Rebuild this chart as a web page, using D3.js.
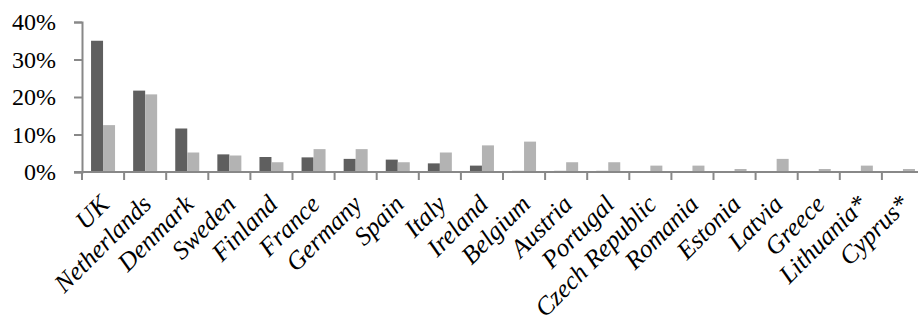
<!DOCTYPE html>
<html><head><meta charset="utf-8">
<script src="https://cdn.jsdelivr.net/npm/d3@7"></script>
<style>body{margin:0;background:#fff;overflow:hidden}</style>
</head><body>
<svg id="chart" width="918" height="320"></svg>
<script>
const categories = ["UK","Netherlands","Denmark","Sweden","Finland","France","Germany","Spain","Italy","Ireland","Belgium","Austria","Portugal","Czech Republic","Romania","Estonia","Latvia","Greece","Lithuania*","Cyprus*"];
const seriesA = [35.0,21.7,11.6,4.7,4.0,3.9,3.5,3.3,2.3,1.7,0.3,0.3,0.3,0.2,0,0,0,0,0,0];
const seriesB = [12.5,20.7,5.2,4.4,2.6,6.1,6.1,2.6,5.2,7.1,8.1,2.6,2.6,1.7,1.7,0.8,3.5,0.8,1.7,0.8];
const yTicks = [0,10,20,30,40];
const seriesColors = ["#5f5f5f","#b3b3b3"];

const svg = d3.select("#chart");
const mLeft = 82, mRight = 924, mTop = 22, mBottom = 172;
const x = d3.scaleBand().domain(categories).range([mLeft, mRight]).paddingInner(0.43).paddingOuter(0.215);
const sub = d3.scaleBand().domain([0,1]).range([0, x.bandwidth()]);
const y = d3.scaleLinear().domain([0,40]).range([mBottom, mTop]);

const groups = svg.append("g").selectAll("g").data(categories).join("g")
  .attr("transform", d => `translate(${x(d)},0)`);
[seriesA, seriesB].forEach((s, si) => {
  groups.append("rect")
    .attr("x", sub(si))
    .attr("width", sub.bandwidth())
    .attr("y", (d, i) => y(s[i]))
    .attr("height", (d, i) => mBottom - y(s[i]))
    .attr("fill", seriesColors[si]);
});

const axisColor = "#888";
const yAxis = svg.append("g").attr("transform", `translate(${mLeft},0)`)
  .call(d3.axisLeft(y).tickValues(yTicks).tickSize(8).tickPadding(18).tickFormat(d => d + "%"));
yAxis.select(".domain").attr("stroke", axisColor).attr("stroke-width", 2);
yAxis.selectAll(".tick line").attr("stroke", axisColor).attr("stroke-width", 2);
yAxis.selectAll("text").attr("font-family", "'Liberation Serif', 'Times New Roman', serif")
  .attr("font-size", 24).attr("fill", "#000");

const step = x.step();
const xg = svg.append("g");
xg.append("line").attr("x1", mLeft - 8).attr("x2", mRight).attr("y1", mBottom).attr("y2", mBottom)
  .attr("stroke", axisColor).attr("stroke-width", 2);
const bounds = d3.range(categories.length + 1).map(i => mLeft + i * step);
xg.selectAll("line.tk").data(bounds).join("line").attr("class","tk")
  .attr("x1", d => d).attr("x2", d => d).attr("y1", mBottom).attr("y2", mBottom + 8)
  .attr("stroke", axisColor).attr("stroke-width", 2);

xg.selectAll("text.lab").data(categories).join("text").attr("class","lab")
  .attr("transform", d => `translate(${x(d) + x.bandwidth()/2 - 5},${mBottom + 21}) rotate(-45)`)
  .attr("text-anchor", "end")
  .attr("dy", "0.7em")
  .attr("font-family", "'Liberation Serif', 'Times New Roman', serif")
  .attr("font-style", "italic")
  .attr("font-size", 25.5)
  .attr("fill", "#000")
  .text(d => d);
</script>
</body></html>
